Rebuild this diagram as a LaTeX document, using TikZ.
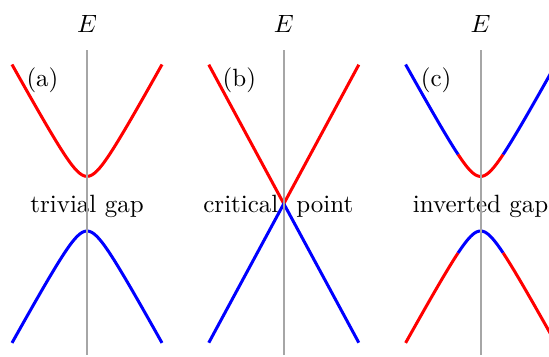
\documentclass[tikz,border=0pt]{standalone}
\usetikzlibrary{positioning}

\begin{document}
\begin{tikzpicture}[x=4pt, y=4pt,
    band/.style={line width=1.2pt, smooth, samples=61},
    axisline/.style={draw=black!35, line width=0.8pt},
    declare function={disp(\k)=sqrt(2.73^2+(1.82*\k)^2);}]
  \clip (0,0) rectangle (54.9,35.6);
  % (a) trivial gap
  \begin{scope}[shift={(8.7,15.23)}]
    \draw[band, red, domain=-7.5:7.5] plot (\x, {disp(\x)});
    \draw[band, blue, domain=-7.5:7.5] plot (\x, {-disp(\x)});
    \node[anchor=base] (gapa) at (0,-0.83) {trivial gap};
    \node (taga) at (-4.45,12.32) {(a)};
  \end{scope}
  % (b) gap closes
  \begin{scope}[shift={(28.38,15.23)}]
    \draw[band, red] (-7.5,13.9) -- (0,0) -- (7.5,13.9);
    \draw[band, blue] (-7.5,-13.9) -- (0,0) -- (7.5,-13.9);
    \node[anchor=base] (gapb) at (-0.55,-0.83) {critical\hspace{3.8pt} point};
    \node (tagb) at (-4.45,12.32) {(b)};
  \end{scope}
  % (c) inverted gap
  \begin{scope}[shift={(48.06,15.23)}]
    \draw[band, blue, domain=-7.5:-2.25] plot (\x, {disp(\x)});
    \draw[band, red, domain=-2.25:2.25] plot (\x, {disp(\x)});
    \draw[band, blue, domain=2.25:7.5] plot (\x, {disp(\x)});
    \draw[band, red, domain=-7.5:-2.25] plot (\x, {-disp(\x)});
    \draw[band, blue, domain=-2.25:2.25] plot (\x, {-disp(\x)});
    \draw[band, red, domain=2.25:7.5] plot (\x, {-disp(\x)});
    \node[anchor=base] (gapc) at (0,-0.83) {inverted gap};
    \node (tagc) at (-4.45,12.32) {(c)};
  \end{scope}
  % energy axes
  \foreach \cx/\n in {8.7/a, 28.38/b, 48.06/c} {
    \draw[axisline] (\cx,0.1) -- (\cx,30.6);
    \node[anchor=base] (E\n) at (\cx,32.4) {$E$};
  }
\end{tikzpicture}
\end{document}
